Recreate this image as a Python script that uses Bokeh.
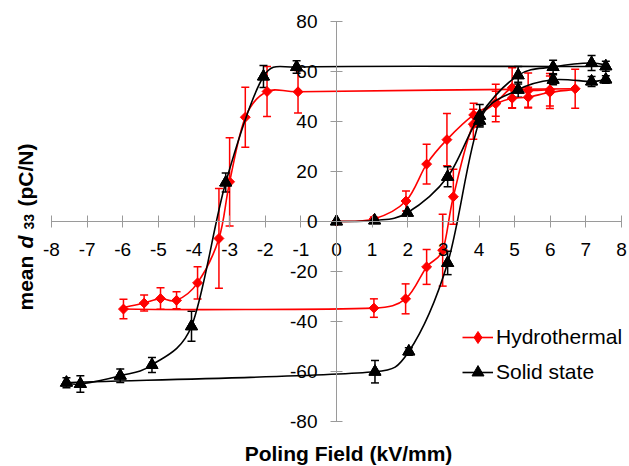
import numpy as np
from bokeh.plotting import figure
from bokeh.models import (ColumnDataSource, Whisker, TeeHead, FixedTicker, Label,
                          Legend, LegendItem, Range1d)
from bokeh.embed import file_html
from bokeh.resources import INLINE

# ---------------- data ----------------
series_names = ["Hydrothermal", "Solid state"]

hydro_x = [0, 1.05, 1.95, 2.53, 3.1, 3.85, 4.47, 4.93, 5.38, 5.99, 6.7,
           -1.08, -1.95, -2.56, -3.0, -3.3, -3.9, -4.49, -4.94, -5.4, -5.98,
           1.05, 1.94, 2.53, 2.98, 3.28, 3.84, 4.47, 4.93, 5.38, 5.99]
hydro_y = [0, 1.0, 8.2, 23.0, 32.8, 42.7, 47.2, 49.4, 49.8, 51.8, 53.2,
           52.0, 52.1, 41.8, 15.9, -6.8, -24.6, -31.6, -30.9, -32.7, -35.1,
           -34.7, -31.0, -18.2, -11.5, 9.9, 39.0, 47.5, 53.6, 52.5, 52.8]
hydro_err = [0, 0.8, 4.0, 8.0, 10.5, 4.7, 5.0, 4.0, 4.0, 6.5, 7.8,
             8.5, 10.0, 12.0, 17.7, 20.0, 6.5, 3.4, 4.3, 3.2, 3.9,
             3.7, 6.0, 7.0, 14.4, 11.0, 6.0, 7.5, 8.0, 7.0, 6.5]

solid_x = [0, 1.07, 1.99, 3.12, 4.02, 5.1, 6.08, 7.16, 7.56,
           -1.12, -2.05, -3.11, -4.07, -5.18, -6.07, -7.19, -7.58,
           1.08, 2.03, 3.12, 4.02, 5.1, 6.08, 7.16, 7.56]
solid_y = [0, 0.4, 3.5, 17.9, 42.4, 58.6, 61.9, 63.5, 62.2,
           61.9, 58.1, 15.6, -42.0, -57.5, -61.8, -65.1, -64.6,
           -60.2, -52.1, -16.6, 40.4, 52.8, 56.8, 56.1, 56.9]
solid_err = [0, 0.5, 0.8, 4.0, 4.5, 3.5, 2.7, 3.0, 2.0,
             2.5, 4.4, 3.8, 6.0, 3.0, 2.7, 3.3, 2.0,
             4.5, 1.5, 4.7, 2.0, 3.0, 2.0, 2.0, 1.5]

x_ticks = list(range(-8, 9))
x_tick_labels = [str(t) for t in x_ticks]
y_ticks = list(range(-80, 81, 20))
y_tick_labels = [str(t) for t in y_ticks]

x_title = "Poling Field (kV/mm)"
y_title_parts = ["mean", "d", "33", "(pC/N)"]

# ---------------- styling ----------------
W, H = 629, 466
PX_X, PX_Y = 35.625, 2.495          # pixels per data unit
X0_PX, Y0_PX = 336.0, 221.0         # pixel position of the data origin
FONT = "Liberation Sans"
RED = "#FF0000"
BLACK = "#000000"
AXIS_GREY = "#9A9A9A"

p = figure(width=W, height=H,
           x_range=Range1d(-X0_PX / PX_X, (W - X0_PX) / PX_X),
           y_range=Range1d((Y0_PX - H) / PX_Y, Y0_PX / PX_Y),
           output_backend="svg", toolbar_location=None, min_border=0)
p.outline_line_color = None
p.grid.visible = False
p.background_fill_color = "white"
p.border_fill_color = "white"

xa = p.xaxis[0]
ya = p.yaxis[0]
for ax, ticks, labels in ((xa, x_ticks, x_tick_labels), (ya, y_ticks, y_tick_labels)):
    ax.fixed_location = 0
    ax.bounds = (ticks[0], ticks[-1])
    ax.ticker = FixedTicker(ticks=ticks)
    ax.major_label_overrides = {t: l for t, l in zip(ticks, labels)}
    ax.minor_tick_line_color = None
    ax.major_tick_in = 6
    ax.major_tick_out = 6
    ax.axis_line_color = AXIS_GREY
    ax.major_tick_line_color = AXIS_GREY
    ax.axis_line_width = 1
    ax.major_label_text_font = FONT
    ax.major_label_text_font_size = "19px"
    ax.major_label_text_color = "black"
xa.major_label_standoff = 15
ya.major_label_standoff = 13


def smooth_segments(xs, ys):
    """Excel-like smoothed line: cubic Bezier control points (pixel space)."""
    P = np.column_stack([np.asarray(xs, float) * PX_X, np.asarray(ys, float) * PX_Y])
    n = len(P)
    T = np.array([(P[min(i + 1, n - 1)] - P[max(i - 1, 0)]) / 6.0 for i in range(n)])
    out = {k: [] for k in ("x0", "y0", "x1", "y1", "cx0", "cy0", "cx1", "cy1")}
    for i in range(n - 1):
        L = np.linalg.norm(P[i + 1] - P[i])

        def clamp(t):
            m = np.linalg.norm(t)
            return t * (0.5 * L / m) if m > 0.5 * L and m > 0 else t
        c0 = P[i] + clamp(T[i])
        c1 = P[i + 1] - clamp(T[i + 1])
        out["x0"].append(P[i][0] / PX_X); out["y0"].append(P[i][1] / PX_Y)
        out["x1"].append(P[i + 1][0] / PX_X); out["y1"].append(P[i + 1][1] / PX_Y)
        out["cx0"].append(c0[0] / PX_X); out["cy0"].append(c0[1] / PX_Y)
        out["cx1"].append(c1[0] / PX_X); out["cy1"].append(c1[1] / PX_Y)
    return ColumnDataSource(out)


def add_series(xs, ys, errs, color, marker, size, angle, legend_marker, legend_size):
    curve = p.bezier(x0="x0", y0="y0", x1="x1", y1="y1", cx0="cx0", cy0="cy0",
                     cx1="cx1", cy1="cy1", source=smooth_segments(xs, ys),
                     line_color=color, line_width=1.6)
    x = np.asarray(xs, float); y = np.asarray(ys, float); e = np.asarray(errs, float)
    mask = e > 0
    esrc = ColumnDataSource(dict(x=x[mask], lo=(y - e)[mask], hi=(y + e)[mask]))
    wh = Whisker(source=esrc, base="x", lower="lo", upper="hi", dimension="height",
                 line_color=color, line_width=1.5,
                 lower_head=TeeHead(size=8, line_color=color, line_width=1.5),
                 upper_head=TeeHead(size=8, line_color=color, line_width=1.5))
    p.add_layout(wh)
    # marker used for the legend swatch (drawn underneath the real markers)
    leg = p.scatter(x=xs, y=ys, marker=legend_marker, size=legend_size,
                    fill_color=color, line_color=color)
    pts = p.scatter(x=xs, y=ys, marker=marker, size=size, angle=angle,
                    fill_color=color, line_color=color)
    return curve, leg


h_curve, h_leg = add_series(hydro_x, hydro_y, hydro_err, RED, "square", 7, np.pi / 4,
                            "diamond", 9)
s_curve, s_leg = add_series(solid_x, solid_y, solid_err, BLACK, "triangle", 12, 0,
                            "triangle", 12)

legend = Legend(items=[LegendItem(label=series_names[0], renderers=[h_curve, h_leg]),
                       LegendItem(label=series_names[1], renderers=[s_curve, s_leg])],
                location=(462, 79), orientation="vertical",
                glyph_width=31, glyph_height=30, label_height=30, spacing=5,
                padding=0, margin=0, label_standoff=3,
                label_text_font=FONT, label_text_font_size="21px",
                label_text_color="black",
                border_line_color=None, background_fill_alpha=0)
p.add_layout(legend)

# axis titles
p.add_layout(Label(x=348, y=13, x_units="screen", y_units="screen", text=x_title,
                   text_align="center", text_baseline="alphabetic",
                   text_font=FONT, text_font_style="bold", text_font_size="21px",
                   text_color="black"))

yt_pos = [156, 218, 237, 260]           # start of each piece (screen, from bottom)
yt_base = [25, 25, 28, 25]              # baseline x (screen)
yt_style = ["bold", "bold italic", "bold", "bold"]
yt_size = ["21px", "21px", "14px", "21px"]
for txt, ypos, xb, st, sz in zip(y_title_parts, yt_pos, yt_base, yt_style, yt_size):
    p.add_layout(Label(x=xb, y=ypos, x_units="screen", y_units="screen", text=txt,
                       angle=np.pi / 2, text_align="left", text_baseline="alphabetic",
                       text_font=FONT, text_font_style=st, text_font_size=sz,
                       text_color="black"))

open("out.html", "w").write(file_html(p, INLINE))
